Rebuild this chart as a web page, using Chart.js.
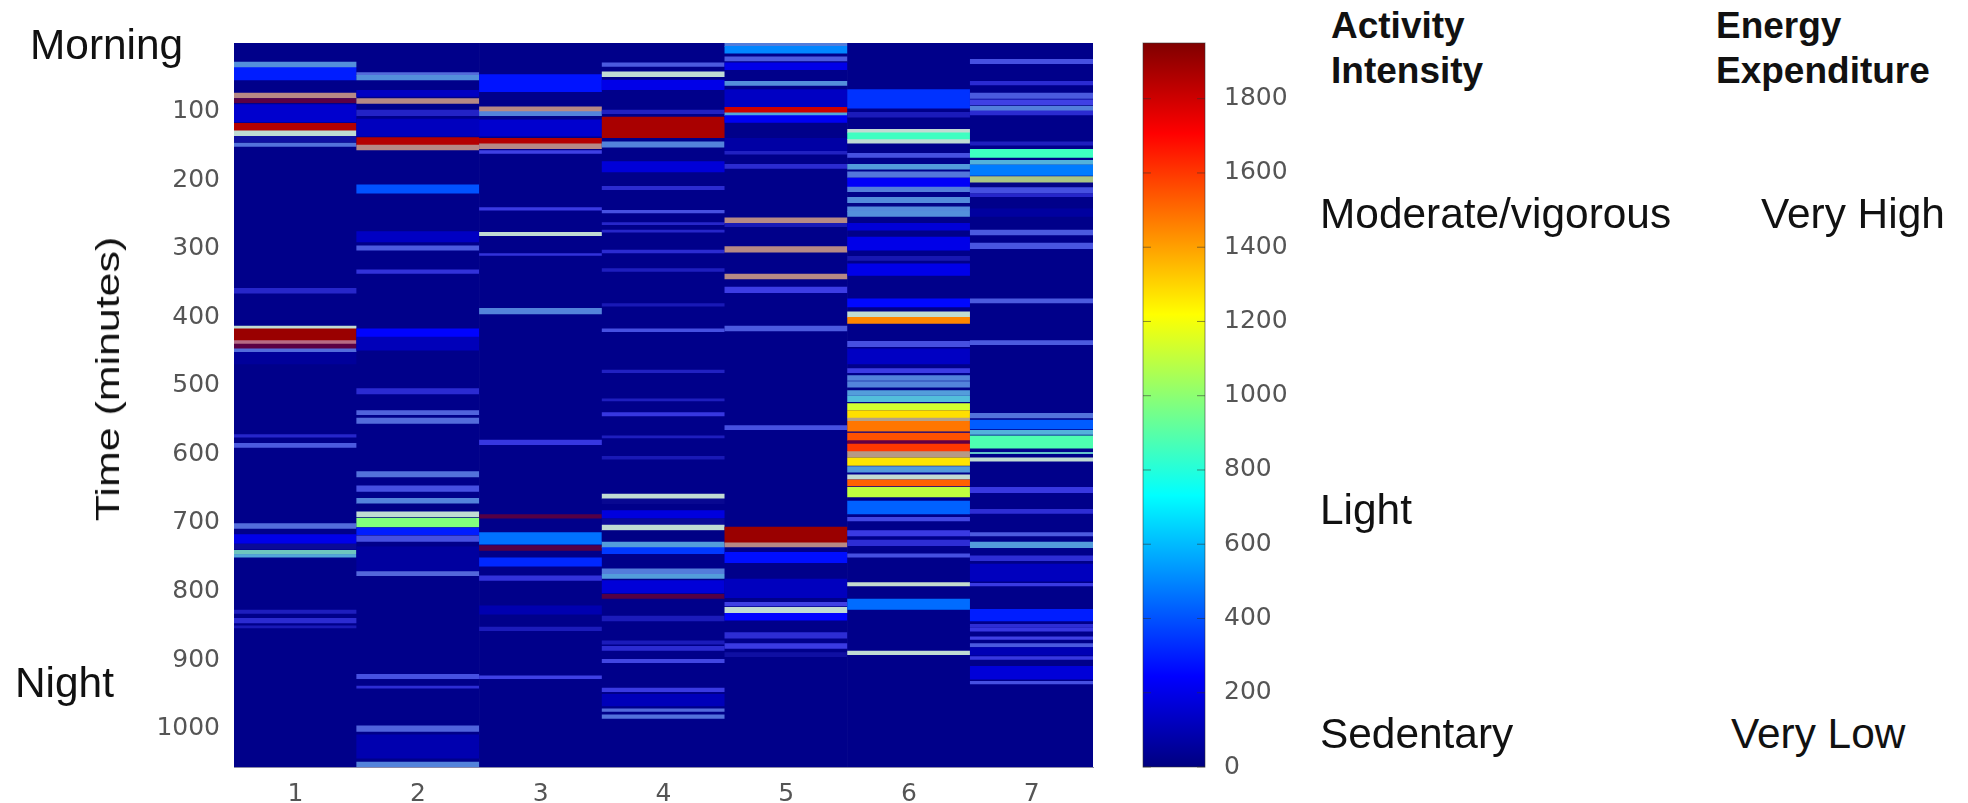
<!DOCTYPE html>
<html>
<head>
<meta charset="utf-8">
<title>Activity heat map</title>
<script src="https://cdn.jsdelivr.net/npm/chart.js@4/dist/chart.umd.min.js"></script>
<style>
  html, body { margin: 0; padding: 0; background: #fff; width: 1968px; height: 803px; overflow: hidden; }
  canvas { position: absolute; top: 0; filter: blur(0.7px); }
  #heatChart { left: 0; }
  #scaleChart { left: 1120px; }
  .note { position: absolute; font-family: "Liberation Sans", Arial, sans-serif; font-size: 42.4px; line-height: 50px; color: #111; white-space: nowrap; }
  .head { font-size: 37px; line-height: 45px; font-weight: bold; }
  #yTitle { left: 108px; top: 379px; font-size: 33px; line-height: 40px; transform: translate(-50%, -50%) rotate(-90deg) scaleX(1.3); }
</style>
</head>
<body>
<canvas id="heatChart" width="1120" height="803"></canvas>
<canvas id="scaleChart" width="200" height="803"></canvas>

<div class="note" id="yTitle">Time (minutes)</div>
<div class="note" style="left:30px;top:20px">Morning</div>
<div class="note" style="left:15px;top:658px">Night</div>
<div class="note head" style="left:1331px;top:3px">Activity</div>
<div class="note head" style="left:1331px;top:48px">Intensity</div>
<div class="note head" style="left:1716px;top:3px">Energy</div>
<div class="note head" style="left:1716px;top:48px">Expenditure</div>
<div class="note" style="left:1320px;top:189px">Moderate/vigorous</div>
<div class="note" style="left:1761px;top:189px">Very High</div>
<div class="note" style="left:1320px;top:485px">Light</div>
<div class="note" style="left:1320px;top:709px">Sedentary</div>
<div class="note" style="left:1731px;top:709px">Very Low</div>

<script>
const days = ['1', '2', '3', '4', '5', '6', '7'];
const yTicks = [100, 200, 300, 400, 500, 600, 700, 800, 900, 1000];
const scaleTicks = [0, 200, 400, 600, 800, 1000, 1200, 1400, 1600, 1800];
const minuteMax = 1056;
const scaleMax = 1950;
const baseLevel = 20;

// each band: [start minute, end minute, counts]
const day1Bands = [
  [28, 36, 500], [36, 54, 300], [73, 80, 1500], [81, 87, 1880], [90, 115, 150], [117, 128, 1850],
  [128, 136, 1000], [136, 144, 60], [146, 151, 380], [358, 365, 150], [413, 417, 1000], [417, 434, 1900],
  [434, 439, 1700], [439, 446, 1880], [446, 451, 350], [451, 468, 50], [571, 575, 150], [584, 590, 300],
  [701, 708, 350], [717, 730, 200], [731, 738, 40], [740, 746, 850], [746, 750, 600], [827, 832, 120],
  [839, 846, 170], [850, 853, 100]
];
const day2Bands = [
  [43, 47, 350], [47, 54, 500], [69, 78, 130], [81, 88, 1500], [98, 106, 140], [111, 136, 120],
  [138, 149, 1850], [149, 156, 1500], [207, 219, 400], [275, 290, 130], [296, 302, 300], [331, 336, 200],
  [417, 429, 250], [429, 448, 110], [504, 512, 170], [536, 542, 320], [547, 555, 350], [625, 633, 380],
  [646, 654, 280], [664, 672, 450], [672, 682, 10], [684, 691, 1000], [693, 706, 980], [707, 717, 300],
  [719, 727, 280], [735, 770, 60], [771, 777, 330], [921, 927, 280], [938, 941, 180], [996, 1004, 320],
  [1009, 1043, 90], [1049, 1056, 450]
];
const day3Bands = [
  [46, 71, 280], [93, 100, 1500], [100, 106, 450], [112, 136, 150], [139, 147, 1850], [147, 154, 1500],
  [157, 161, 250], [240, 244, 230], [276, 281, 1000], [307, 310, 200], [387, 395, 450], [579, 586, 220],
  [688, 693, 1900], [714, 731, 460], [733, 740, 1900], [751, 763, 320], [777, 784, 200], [821, 833, 90],
  [852, 857, 110], [923, 927, 250]
];
const day4Bands = [
  [29, 34, 300], [42, 49, 1000], [54, 68, 200], [98, 103, 130], [108, 138, 1870], [144, 152, 450],
  [173, 188, 170], [209, 214, 170], [244, 248, 280], [262, 265, 150], [273, 276, 150], [302, 306, 170],
  [329, 333, 120], [380, 384, 100], [417, 421, 280], [477, 481, 130], [519, 522, 120], [539, 544, 220],
  [573, 576, 120], [603, 607, 100], [658, 665, 1000], [665, 672, 30], [682, 693, 180], [694, 702, 40],
  [703, 711, 1000], [711, 726, 10], [728, 736, 560], [736, 745, 350], [767, 775, 420], [775, 781, 560],
  [784, 802, 170], [804, 810, 1900], [836, 843, 110], [872, 877, 110], [880, 886, 170], [899, 904, 260],
  [941, 946, 230], [950, 967, 110], [971, 975, 350], [980, 985, 380]
];
const day5Bands = [
  [0, 5, 420], [5, 15, 500], [20, 26, 300], [29, 39, 200], [56, 62, 500], [68, 94, 130],
  [94, 102, 1800], [102, 106, 600], [106, 116, 220], [139, 158, 70], [158, 162, 130], [177, 183, 170],
  [255, 263, 1500], [263, 268, 100], [297, 305, 1500], [337, 344, 1500], [356, 364, 240], [413, 420, 300],
  [558, 564, 280], [706, 729, 1900], [729, 735, 1500], [743, 758, 270], [782, 809, 120], [816, 821, 250],
  [823, 831, 1000], [832, 842, 250], [860, 868, 180], [876, 883, 230], [889, 895, 60]
];
const day6Bands = [
  [68, 95, 340], [101, 108, 110], [126, 131, 1000], [131, 141, 850], [141, 146, 1000], [161, 167, 280],
  [177, 184, 550], [188, 196, 400], [197, 210, 230], [210, 217, 430], [225, 233, 480], [234, 238, 10],
  [239, 246, 480], [246, 253, 500], [263, 273, 170], [283, 302, 200], [311, 317, 90], [322, 339, 200],
  [373, 385, 260], [392, 400, 1000], [400, 409, 1450], [435, 443, 280], [446, 468, 130], [475, 481, 240],
  [485, 492, 450], [494, 502, 450], [507, 514, 560], [515, 523, 700], [526, 535, 1130], [536, 547, 1280],
  [547, 551, 1350], [552, 566, 1480], [569, 580, 1550], [580, 585, 1850], [585, 596, 1600], [596, 604, 1400],
  [605, 616, 1270], [618, 626, 550], [630, 636, 1000], [637, 646, 1520], [648, 662, 1100], [668, 687, 430],
  [692, 697, 260], [711, 719, 230], [725, 733, 180], [745, 750, 280], [787, 792, 1050], [811, 826, 450],
  [887, 892, 1000]
];
const day7Bands = [
  [24, 30, 280], [56, 61, 170], [73, 81, 300], [83, 90, 250], [92, 99, 430], [99, 105, 170],
  [144, 149, 120], [155, 167, 850], [171, 177, 650], [178, 193, 480], [195, 203, 1100], [205, 210, 10],
  [211, 219, 280], [220, 224, 150], [242, 253, 60], [273, 280, 300], [292, 300, 290], [373, 379, 300],
  [434, 440, 300], [540, 547, 380], [550, 563, 420], [565, 571, 650], [573, 592, 880], [592, 597, 20],
  [597, 599, 800], [605, 610, 1000], [648, 656, 220], [680, 686, 180], [714, 719, 300], [728, 736, 550],
  [748, 755, 180], [760, 785, 120], [788, 792, 230], [826, 843, 300], [848, 852, 180], [853, 858, 220],
  [866, 870, 250], [876, 881, 300], [882, 893, 100], [895, 899, 220], [909, 928, 170], [931, 935, 280]
];
const dayBands = [day1Bands, day2Bands, day3Bands, day4Bands, day5Bands, day6Bands, day7Bands];

const tickFont = { family: '"DejaVu Sans"', size: 25 };
const tickColor = '#555';

function clamp01(x) { return Math.min(1, Math.max(0, x)); }

// matlab jet colormap
function jet(v) {
  const t = v / scaleMax;
  return [1.5 - Math.abs(4 * t - 3), 1.5 - Math.abs(4 * t - 2), 1.5 - Math.abs(4 * t - 1)]
    .map(c => Math.round(clamp01(c) * 255));
}

function mix(rgb, other, k) {
  return rgb.map((c, i) => Math.round(c * (1 - k) + other[i] * k));
}

// thin lines come out washed by the jpeg in the source image, so fake that here
function bandColor(band) {
  const rgb = jet(band.v);
  const width = band.y[1] - band.y[0];
  let out = rgb;
  if (width <= 8) {
    if (band.v >= 1750) {
      if (width < 8) out = mix(rgb, [0, 0, 150], 0.45);
    } else if (band.v >= 950 && band.v <= 1050) {
      out = mix(rgb, [205, 210, 235], 0.8);
    } else if (band.v > 1300) {
      out = mix(rgb, [150, 150, 190], 0.7);
    } else {
      out = mix(rgb, [150, 150, 190], Math.min(0.55, band.v / 600));
    }
  }
  return `rgb(${out.join(',')})`;
}

const heatPoints = [];
dayBands.forEach((bands, d) => {
  heatPoints.push({ x: days[d], y: [0, minuteMax], v: baseLevel });
  bands.forEach(b => heatPoints.push({ x: days[d], y: [b[0], b[1]], v: b[2] }));
});

new Chart(document.getElementById('heatChart'), {
  type: 'bar',
  data: {
    labels: days,
    datasets: [{
      data: heatPoints,
      backgroundColor: ctx => bandColor(ctx.raw),
      borderWidth: 0,
      barPercentage: 1,
      categoryPercentage: 1
    }]
  },
  options: {
    responsive: false,
    animation: false,
    layout: { padding: { top: 43, right: 27 } },
    plugins: { legend: { display: false }, tooltip: { enabled: false } },
    scales: {
      x: {
        grid: { display: false },
        border: { color: '#8a8aa8' },
        ticks: { font: tickFont, color: tickColor, padding: 4, maxRotation: 0 },
        afterFit: s => { s.height = 36; }
      },
      y: {
        reverse: true,
        min: 0,
        max: minuteMax,
        grid: { display: false },
        border: { color: '#8a8aa8' },
        ticks: { font: tickFont, color: tickColor, padding: 6, callback: v => String(v) },
        afterBuildTicks: s => { s.ticks = yTicks.map(value => ({ value })); },
        afterFit: s => { s.width = 234; }
      }
    }
  }
});

// jet knots as fractions of the colour bar
const jetStops = [0, 0.125, 0.375, 0.625, 0.875, 1];

function scaleGradient(ctx) {
  const area = ctx.chart.chartArea;
  if (!area) return '#000080';
  const g = ctx.chart.ctx.createLinearGradient(0, area.bottom, 0, area.top);
  jetStops.forEach(s => g.addColorStop(s, `rgb(${jet(s * scaleMax).join(',')})`));
  return g;
}

const scaleFrame = {
  id: 'scaleFrame',
  afterDatasetsDraw(chart) {
    const { ctx, chartArea: a, scales } = chart;
    ctx.save();
    ctx.strokeStyle = 'rgba(50,50,50,0.55)';
    ctx.lineWidth = 1;
    ctx.strokeRect(a.left, a.top, a.width, a.height);
    scaleTicks.forEach(v => {
      const y = scales.y.getPixelForValue(v);
      ctx.beginPath();
      ctx.moveTo(a.left, y); ctx.lineTo(a.left + 8, y);
      ctx.moveTo(a.right, y); ctx.lineTo(a.right - 8, y);
      ctx.stroke();
    });
    ctx.restore();
  }
};

new Chart(document.getElementById('scaleChart'), {
  type: 'bar',
  data: {
    labels: ['counts'],
    datasets: [{
      data: [[0, scaleMax]],
      backgroundColor: scaleGradient,
      borderWidth: 0,
      barPercentage: 1,
      categoryPercentage: 1
    }]
  },
  options: {
    responsive: false,
    animation: false,
    layout: { padding: { top: 43, bottom: 36, left: 23 } },
    plugins: { legend: { display: false }, tooltip: { enabled: false } },
    scales: {
      x: { display: false },
      y: {
        position: 'right',
        min: 0,
        max: scaleMax,
        grid: { display: false },
        border: { display: false },
        ticks: { font: tickFont, color: tickColor, padding: 11, callback: v => String(v) },
        afterBuildTicks: s => { s.ticks = scaleTicks.map(value => ({ value })); },
        afterFit: s => { s.width = 115; }
      }
    }
  },
  plugins: [scaleFrame]
});
</script>
</body>
</html>
